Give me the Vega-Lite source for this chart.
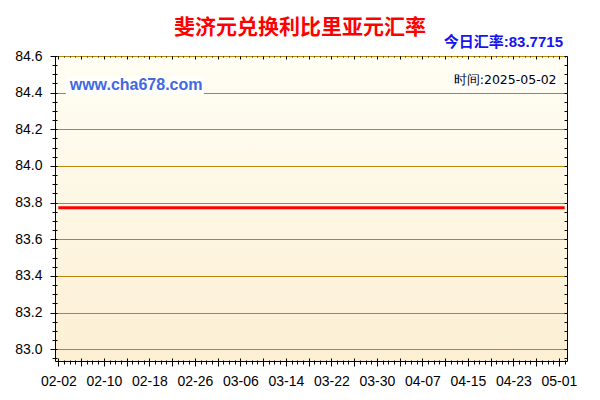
{
  "$schema": "https://vega.github.io/schema/vega-lite/v6.json",
  "width": 512,
  "height": 305,
  "autosize": "none",
  "padding": {"left": 55, "top": 56, "right": 33, "bottom": 39},
  "background": "#ffffff",
  "title": {
    "text": "斐济元兑换利比里亚元汇率",
    "color": "#ff0000",
    "font": "Noto Sans CJK SC",
    "fontSize": 21,
    "fontWeight": "bold",
    "anchor": "middle",
    "frame": "group",
    "dx": -11,
    "dy": 23,
    "offset": 20
  },
  "config": {
    "view": {
      "stroke": "#000000",
      "strokeWidth": 1,
      "fill": {
        "gradient": "linear",
        "x1": 0, "y1": 0, "x2": 0, "y2": 1,
        "stops": [
          {"offset": 0, "color": "#fffef4"},
          {"offset": 1, "color": "#fcefd4"}
        ]
      }
    },
    "axis": {
      "title": null,
      "labelFont": "Liberation Sans",
      "labelFontSize": 14,
      "labelColor": "#000000",
      "tickColor": "#000000",
      "domain": false,
      "grid": false
    }
  },
  "data": {
    "values": [
      {"date": "2025-02-02", "rate": 83.7715}, {"date": "2025-02-03", "rate": 83.7715},
      {"date": "2025-02-04", "rate": 83.7715}, {"date": "2025-02-05", "rate": 83.7715},
      {"date": "2025-02-06", "rate": 83.7715}, {"date": "2025-02-07", "rate": 83.7715},
      {"date": "2025-02-08", "rate": 83.7715}, {"date": "2025-02-09", "rate": 83.7715},
      {"date": "2025-02-10", "rate": 83.7715}, {"date": "2025-02-11", "rate": 83.7715},
      {"date": "2025-02-12", "rate": 83.7715}, {"date": "2025-02-13", "rate": 83.7715},
      {"date": "2025-02-14", "rate": 83.7715}, {"date": "2025-02-15", "rate": 83.7715},
      {"date": "2025-02-16", "rate": 83.7715}, {"date": "2025-02-17", "rate": 83.7715},
      {"date": "2025-02-18", "rate": 83.7715}, {"date": "2025-02-19", "rate": 83.7715},
      {"date": "2025-02-20", "rate": 83.7715}, {"date": "2025-02-21", "rate": 83.7715},
      {"date": "2025-02-22", "rate": 83.7715}, {"date": "2025-02-23", "rate": 83.7715},
      {"date": "2025-02-24", "rate": 83.7715}, {"date": "2025-02-25", "rate": 83.7715},
      {"date": "2025-02-26", "rate": 83.7715}, {"date": "2025-02-27", "rate": 83.7715},
      {"date": "2025-02-28", "rate": 83.7715}, {"date": "2025-03-01", "rate": 83.7715},
      {"date": "2025-03-02", "rate": 83.7715}, {"date": "2025-03-03", "rate": 83.7715},
      {"date": "2025-03-04", "rate": 83.7715}, {"date": "2025-03-05", "rate": 83.7715},
      {"date": "2025-03-06", "rate": 83.7715}, {"date": "2025-03-07", "rate": 83.7715},
      {"date": "2025-03-08", "rate": 83.7715}, {"date": "2025-03-09", "rate": 83.7715},
      {"date": "2025-03-10", "rate": 83.7715}, {"date": "2025-03-11", "rate": 83.7715},
      {"date": "2025-03-12", "rate": 83.7715}, {"date": "2025-03-13", "rate": 83.7715},
      {"date": "2025-03-14", "rate": 83.7715}, {"date": "2025-03-15", "rate": 83.7715},
      {"date": "2025-03-16", "rate": 83.7715}, {"date": "2025-03-17", "rate": 83.7715},
      {"date": "2025-03-18", "rate": 83.7715}, {"date": "2025-03-19", "rate": 83.7715},
      {"date": "2025-03-20", "rate": 83.7715}, {"date": "2025-03-21", "rate": 83.7715},
      {"date": "2025-03-22", "rate": 83.7715}, {"date": "2025-03-23", "rate": 83.7715},
      {"date": "2025-03-24", "rate": 83.7715}, {"date": "2025-03-25", "rate": 83.7715},
      {"date": "2025-03-26", "rate": 83.7715}, {"date": "2025-03-27", "rate": 83.7715},
      {"date": "2025-03-28", "rate": 83.7715}, {"date": "2025-03-29", "rate": 83.7715},
      {"date": "2025-03-30", "rate": 83.7715}, {"date": "2025-03-31", "rate": 83.7715},
      {"date": "2025-04-01", "rate": 83.7715}, {"date": "2025-04-02", "rate": 83.7715},
      {"date": "2025-04-03", "rate": 83.7715}, {"date": "2025-04-04", "rate": 83.7715},
      {"date": "2025-04-05", "rate": 83.7715}, {"date": "2025-04-06", "rate": 83.7715},
      {"date": "2025-04-07", "rate": 83.7715}, {"date": "2025-04-08", "rate": 83.7715},
      {"date": "2025-04-09", "rate": 83.7715}, {"date": "2025-04-10", "rate": 83.7715},
      {"date": "2025-04-11", "rate": 83.7715}, {"date": "2025-04-12", "rate": 83.7715},
      {"date": "2025-04-13", "rate": 83.7715}, {"date": "2025-04-14", "rate": 83.7715},
      {"date": "2025-04-15", "rate": 83.7715}, {"date": "2025-04-16", "rate": 83.7715},
      {"date": "2025-04-17", "rate": 83.7715}, {"date": "2025-04-18", "rate": 83.7715},
      {"date": "2025-04-19", "rate": 83.7715}, {"date": "2025-04-20", "rate": 83.7715},
      {"date": "2025-04-21", "rate": 83.7715}, {"date": "2025-04-22", "rate": 83.7715},
      {"date": "2025-04-23", "rate": 83.7715}, {"date": "2025-04-24", "rate": 83.7715},
      {"date": "2025-04-25", "rate": 83.7715}, {"date": "2025-04-26", "rate": 83.7715},
      {"date": "2025-04-27", "rate": 83.7715}, {"date": "2025-04-28", "rate": 83.7715},
      {"date": "2025-04-29", "rate": 83.7715}, {"date": "2025-04-30", "rate": 83.7715},
      {"date": "2025-05-01", "rate": 83.7715}, {"date": "2025-05-02", "rate": 83.7715}
    ]
  },
  "resolve": {"axis": {"x": "independent", "y": "independent"}},
  "layer": [
    {
      "mark": {"type": "line", "color": "#ff0000", "strokeWidth": 3},
      "encoding": {
        "x": {
          "field": "date",
          "type": "temporal",
          "scale": {
            "type": "utc",
            "domain": [
              {"year": 2025, "month": 2, "date": 1, "hours": 10, "utc": true},
              {"year": 2025, "month": 5, "date": 2, "hours": 10, "utc": true}
            ]
          },
          "axis": {
            "orient": "bottom",
            "format": "%m-%d",
            "ticks": false,
            "tickSize": 0,
            "labelPadding": 13,
            "labelFlush": false,
            "labelOverlap": false,
            "values": [
              {"year": 2025, "month": 2, "date": 2, "utc": true},
              {"year": 2025, "month": 2, "date": 10, "utc": true},
              {"year": 2025, "month": 2, "date": 18, "utc": true},
              {"year": 2025, "month": 2, "date": 26, "utc": true},
              {"year": 2025, "month": 3, "date": 6, "utc": true},
              {"year": 2025, "month": 3, "date": 14, "utc": true},
              {"year": 2025, "month": 3, "date": 22, "utc": true},
              {"year": 2025, "month": 3, "date": 30, "utc": true},
              {"year": 2025, "month": 4, "date": 7, "utc": true},
              {"year": 2025, "month": 4, "date": 15, "utc": true},
              {"year": 2025, "month": 4, "date": 23, "utc": true},
              {"year": 2025, "month": 5, "date": 1, "utc": true}
            ]
          }
        },
        "y": {
          "field": "rate",
          "type": "quantitative",
          "scale": {"domain": [82.936, 84.6], "nice": false, "zero": false},
          "axis": {
            "orient": "left",
            "format": ".1f",
            "values": [83.0, 83.2, 83.4, 83.6, 83.8, 84.0, 84.2, 84.4, 84.6],
            "tickSize": 5,
            "labelPadding": 8,
            "grid": true,
            "gridColor": "#b8860b",
            "gridWidth": 1,
            "gridOpacity": 1
          }
        }
      }
    },
    {
      "mark": {"type": "line", "strokeOpacity": 0},
      "encoding": {
        "x": {
          "field": "date",
          "type": "temporal",
          "axis": {
            "orient": "bottom",
            "labels": false,
            "tickSize": 8,
            "offset": -3,
            "values": [
              {"year": 2025, "month": 2, "date": 2, "utc": true},
              {"year": 2025, "month": 2, "date": 6, "utc": true},
              {"year": 2025, "month": 2, "date": 10, "utc": true},
              {"year": 2025, "month": 2, "date": 14, "utc": true},
              {"year": 2025, "month": 2, "date": 18, "utc": true},
              {"year": 2025, "month": 2, "date": 22, "utc": true},
              {"year": 2025, "month": 2, "date": 26, "utc": true},
              {"year": 2025, "month": 3, "date": 2, "utc": true},
              {"year": 2025, "month": 3, "date": 6, "utc": true},
              {"year": 2025, "month": 3, "date": 10, "utc": true},
              {"year": 2025, "month": 3, "date": 14, "utc": true},
              {"year": 2025, "month": 3, "date": 18, "utc": true},
              {"year": 2025, "month": 3, "date": 22, "utc": true},
              {"year": 2025, "month": 3, "date": 26, "utc": true},
              {"year": 2025, "month": 3, "date": 30, "utc": true},
              {"year": 2025, "month": 4, "date": 3, "utc": true},
              {"year": 2025, "month": 4, "date": 7, "utc": true},
              {"year": 2025, "month": 4, "date": 11, "utc": true},
              {"year": 2025, "month": 4, "date": 15, "utc": true},
              {"year": 2025, "month": 4, "date": 19, "utc": true},
              {"year": 2025, "month": 4, "date": 23, "utc": true},
              {"year": 2025, "month": 4, "date": 27, "utc": true},
              {"year": 2025, "month": 5, "date": 1, "utc": true}
            ]
          }
        },
        "y": {
          "field": "rate",
          "type": "quantitative",
          "axis": {
            "orient": "left",
            "labels": false,
            "tickSize": 5,
            "offset": -2,
            "values": [82.95, 83.0, 83.05, 83.1, 83.15, 83.2, 83.25, 83.3, 83.35, 83.4, 83.45, 83.5, 83.55, 83.6, 83.65, 83.7, 83.75, 83.8, 83.85, 83.9, 83.95, 84.0, 84.05, 84.1, 84.15, 84.2, 84.25, 84.3, 84.35, 84.4, 84.45, 84.5, 84.55, 84.6]
          }
        }
      }
    },
    {
      "mark": {"type": "line", "strokeOpacity": 0},
      "encoding": {
        "x": {
          "field": "date",
          "type": "temporal",
          "axis": {
            "orient": "bottom",
            "labels": false,
            "tickSize": 4,
            "offset": -1,
            "tickCount": {"interval": "day", "step": 1}
          }
        },
        "y": {
          "field": "rate",
          "type": "quantitative",
          "axis": {
            "orient": "right",
            "labels": false,
            "tickSize": 3,
            "offset": -3,
            "values": [82.95, 83.0, 83.05, 83.1, 83.15, 83.2, 83.25, 83.3, 83.35, 83.4, 83.45, 83.5, 83.55, 83.6, 83.65, 83.7, 83.75, 83.8, 83.85, 83.9, 83.95, 84.0, 84.05, 84.1, 84.15, 84.2, 84.25, 84.3, 84.35, 84.4, 84.45, 84.5, 84.55, 84.6]
          }
        }
      }
    },
    {
      "mark": {"type": "line", "strokeOpacity": 0},
      "encoding": {
        "x": {
          "field": "date",
          "type": "temporal",
          "axis": {
            "orient": "top",
            "labels": false,
            "tickSize": 1,
            "offset": -1,
            "tickCount": {"interval": "day", "step": 1}
          }
        },
        "y": {"field": "rate", "type": "quantitative", "axis": null}
      }
    },
    {
      "mark": {"type": "line", "strokeOpacity": 0},
      "encoding": {
        "x": {
          "field": "date",
          "type": "temporal",
          "axis": {
            "orient": "top",
            "labels": false,
            "tickSize": 3,
            "offset": -3,
            "values": [
              {"year": 2025, "month": 2, "date": 2, "utc": true},
              {"year": 2025, "month": 2, "date": 6, "utc": true},
              {"year": 2025, "month": 2, "date": 10, "utc": true},
              {"year": 2025, "month": 2, "date": 14, "utc": true},
              {"year": 2025, "month": 2, "date": 18, "utc": true},
              {"year": 2025, "month": 2, "date": 22, "utc": true},
              {"year": 2025, "month": 2, "date": 26, "utc": true},
              {"year": 2025, "month": 3, "date": 2, "utc": true},
              {"year": 2025, "month": 3, "date": 6, "utc": true},
              {"year": 2025, "month": 3, "date": 10, "utc": true},
              {"year": 2025, "month": 3, "date": 14, "utc": true},
              {"year": 2025, "month": 3, "date": 18, "utc": true},
              {"year": 2025, "month": 3, "date": 22, "utc": true},
              {"year": 2025, "month": 3, "date": 26, "utc": true},
              {"year": 2025, "month": 3, "date": 30, "utc": true},
              {"year": 2025, "month": 4, "date": 3, "utc": true},
              {"year": 2025, "month": 4, "date": 7, "utc": true},
              {"year": 2025, "month": 4, "date": 11, "utc": true},
              {"year": 2025, "month": 4, "date": 15, "utc": true},
              {"year": 2025, "month": 4, "date": 19, "utc": true},
              {"year": 2025, "month": 4, "date": 23, "utc": true},
              {"year": 2025, "month": 4, "date": 27, "utc": true},
              {"year": 2025, "month": 5, "date": 1, "utc": true}
            ]
          }
        },
        "y": {"field": "rate", "type": "quantitative", "axis": null}
      }
    },
    {
      "data": {"values": [{"note": "www.cha678.com"}]},
      "layer": [
        {
          "mark": {"type": "rect", "fill": "#ffffff"},
          "encoding": {
            "x": {"datum": {"year": 2025, "month": 2, "date": 3, "hours": 8, "utc": true}, "type": "temporal", "axis": null},
            "x2": {"datum": {"year": 2025, "month": 2, "date": 27, "hours": 14, "utc": true}},
            "y": {"datum": 84.486, "type": "quantitative", "axis": null},
            "y2": {"datum": 84.393}
          }
        },
        {
          "mark": {"type": "text", "align": "left", "baseline": "middle", "font": "Liberation Sans", "fontSize": 16, "fontWeight": "bold", "color": "#4169e1"},
          "encoding": {
            "x": {"datum": {"year": 2025, "month": 2, "date": 4, "utc": true}, "type": "temporal", "axis": null},
            "y": {"datum": 84.44, "type": "quantitative", "axis": null},
            "text": {"field": "note"}
          }
        }
      ]
    },
    {
      "data": {"values": [{"note": "时间:2025-05-02"}]},
      "layer": [
        {
          "mark": {"type": "rect", "fill": "#ffffff"},
          "encoding": {
            "x": {"datum": {"year": 2025, "month": 4, "date": 12, "hours": 5, "utc": true}, "type": "temporal", "axis": null},
            "x2": {"datum": {"year": 2025, "month": 4, "date": 30, "hours": 19, "utc": true}},
            "y": {"datum": 84.507, "type": "quantitative", "axis": null},
            "y2": {"datum": 84.425}
          }
        },
        {
          "mark": {"type": "text", "align": "right", "baseline": "middle", "font": "DejaVu Sans", "fontSize": 12.5, "color": "#000000"},
          "encoding": {
            "x": {"datum": {"year": 2025, "month": 4, "date": 30, "hours": 14, "utc": true}, "type": "temporal", "axis": null},
            "y": {"datum": 84.467, "type": "quantitative", "axis": null},
            "text": {"field": "note"}
          }
        }
      ]
    },
    {
      "data": {"values": [{"note": "今日汇率:83.7715"}]},
      "mark": {"type": "text", "align": "right", "baseline": "alphabetic", "font": "Liberation Sans, Noto Sans CJK SC", "fontSize": 15, "fontWeight": "bold", "color": "#1515f0"},
      "encoding": {
        "x": {"datum": {"year": 2025, "month": 5, "date": 1, "hours": 17, "utc": true}, "type": "temporal", "axis": null},
        "y": {"datum": 84.649, "type": "quantitative", "axis": null},
        "text": {"field": "note"}
      }
    }
  ]
}
